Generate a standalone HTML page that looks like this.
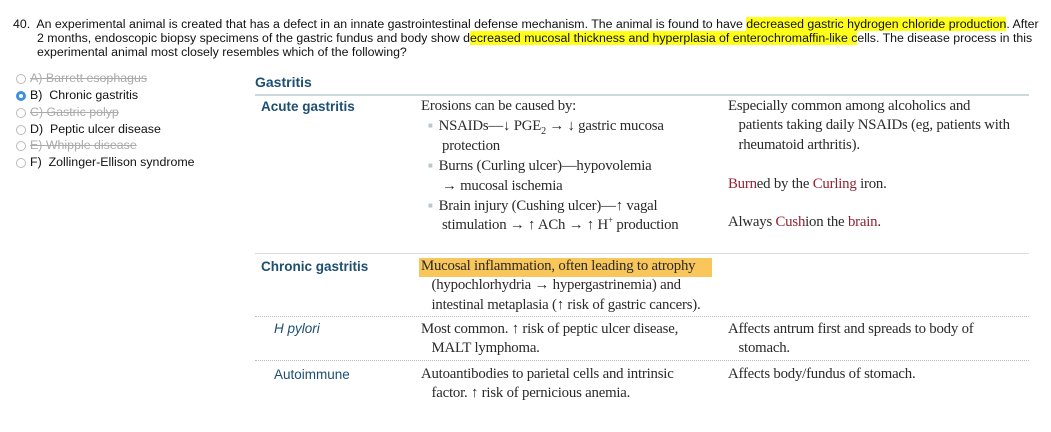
<!DOCTYPE html>
<html><head><meta charset="utf-8"><style>
body{margin:0;width:1051px;height:432px;background:#fff;position:relative;overflow:hidden}
.q{position:absolute;font:12.35px "Liberation Sans",sans-serif;color:#111;white-space:nowrap;line-height:14px}
.hl{background:#ffff1a}
.opt{position:absolute;left:16px;font:12.4px "Liberation Sans",sans-serif;color:#111;white-space:nowrap;line-height:16px}
.opt .r{display:inline-block;width:10px;height:10px;border:1px solid #bbb;border-radius:50%;vertical-align:-2px;margin-right:4px;box-sizing:border-box}
.opt.x{color:#aaa;text-decoration:line-through}
.opt .sel{border:3px solid #3d8fe0;background:#fff}
.s{position:absolute;font:14.8px "Liberation Serif",serif;color:#2a2a2a;white-space:nowrap;line-height:19.4px;letter-spacing:-0.2px}
.s sub,.s sup{line-height:0}
.h{position:absolute;font:bold 13.5px "Liberation Sans",sans-serif;color:#1d4f72;white-space:nowrap;line-height:18px}
.red{color:#8e2232}
.b{color:#b8c6cf;font-size:8px;vertical-align:2px;margin-right:6px}
.line{position:absolute;left:255px;width:774px}
</style></head><body>
<div class="q" style="left:13px;top:17px">40.&nbsp; An experimental animal is created that has a defect in an innate gastrointestinal defense mechanism. The animal is found to have <span class="hl">decreased gastric hydrogen chloride production</span>. After</div>
<div class="q" style="left:37px;top:31px">2 months, endoscopic biopsy specimens of the gastric fundus and body show d<span class="hl">ecreased mucosal thickness and hyperplasia of enterochromaffin-like c</span>ells. The disease process in this</div>
<div class="q" style="left:37px;top:45px">experimental animal most closely resembles which of the following?</div>

<div class="opt x" style="top:70px"><span class="r"></span>A) Barrett esophagus</div>
<div class="opt" style="top:87px"><span class="r sel"></span>B)&nbsp; Chronic gastritis</div>
<div class="opt x" style="top:104px"><span class="r"></span>C) Gastric polyp</div>
<div class="opt" style="top:121px"><span class="r"></span>D)&nbsp; Peptic ulcer disease</div>
<div class="opt x" style="top:137px"><span class="r"></span>E) Whipple disease</div>
<div class="opt" style="top:154px"><span class="r"></span>F)&nbsp; Zollinger-Ellison syndrome</div>

<div class="h" style="left:255px;top:73px;font-size:14px">Gastritis</div>
<div class="line" style="top:94px;height:2px;background:#cdd8dc"></div>

<div class="h" style="left:261px;top:98px">Acute gastritis</div>
<div class="s" style="left:421px;top:97px">Erosions can be caused by:<br>
&nbsp;&nbsp;<span class="b">■</span>NSAIDs—↓ PGE<sub style="font-size:10px">2</sub> → ↓ gastric mucosa<br>
<span style="margin-left:21px">protection</span><br>
&nbsp;&nbsp;<span class="b">■</span>Burns (Curling ulcer)—hypovolemia<br>
<span style="margin-left:21px">→ mucosal ischemia</span><br>
&nbsp;&nbsp;<span class="b">■</span>Brain injury (Cushing ulcer)—↑ vagal<br>
<span style="margin-left:21px">stimulation → ↑ ACh → ↑ H<sup style="font-size:9px">+</sup> production</span></div>
<div class="s" style="left:728px;top:97px">Especially common among alcoholics and<br>
&nbsp;&nbsp;&nbsp;patients taking daily NSAIDs (eg, patients with<br>
&nbsp;&nbsp;&nbsp;rheumatoid arthritis).</div>
<div class="s" style="left:728px;top:175px"><span class="red">Burn</span>ed by the <span class="red">Curling</span> iron.</div>
<div class="s" style="left:728px;top:213px">Always <span class="red">Cush</span>ion the <span class="red">brain</span>.</div>

<div class="line" style="top:253px;height:1px;background:#d8dfe2"></div>
<div class="h" style="left:261px;top:258px">Chronic gastritis</div>
<div style="position:absolute;left:419px;top:258px;width:293px;height:19px;background:#f8c65a"></div>
<div class="s" style="left:421px;top:257px">Mucosal inflammation, often leading to atrophy<br>
&nbsp;&nbsp;&nbsp;(hypochlorhydria → hypergastrinemia) and<br>
&nbsp;&nbsp;&nbsp;intestinal metaplasia (↑ risk of gastric cancers).</div>

<div class="line" style="top:316px;border-top:1px dotted #bbb"></div>
<div class="h" style="left:274px;top:320px;font-weight:normal;font-style:italic">H pylori</div>
<div class="s" style="left:421px;top:320px">Most common. ↑ risk of peptic ulcer disease,<br>&nbsp;&nbsp;&nbsp;MALT lymphoma.</div>
<div class="s" style="left:728px;top:320px">Affects antrum first and spreads to body of<br>&nbsp;&nbsp;&nbsp;stomach.</div>

<div class="line" style="top:360px;border-top:1px dotted #bbb"></div>
<div class="h" style="left:274px;top:366px;font-weight:normal">Autoimmune</div>
<div class="s" style="left:421px;top:365px">Autoantibodies to parietal cells and intrinsic<br>&nbsp;&nbsp;&nbsp;factor. ↑ risk of pernicious anemia.</div>
<div class="s" style="left:728px;top:365px">Affects body/fundus of stomach.</div>
</body></html>
